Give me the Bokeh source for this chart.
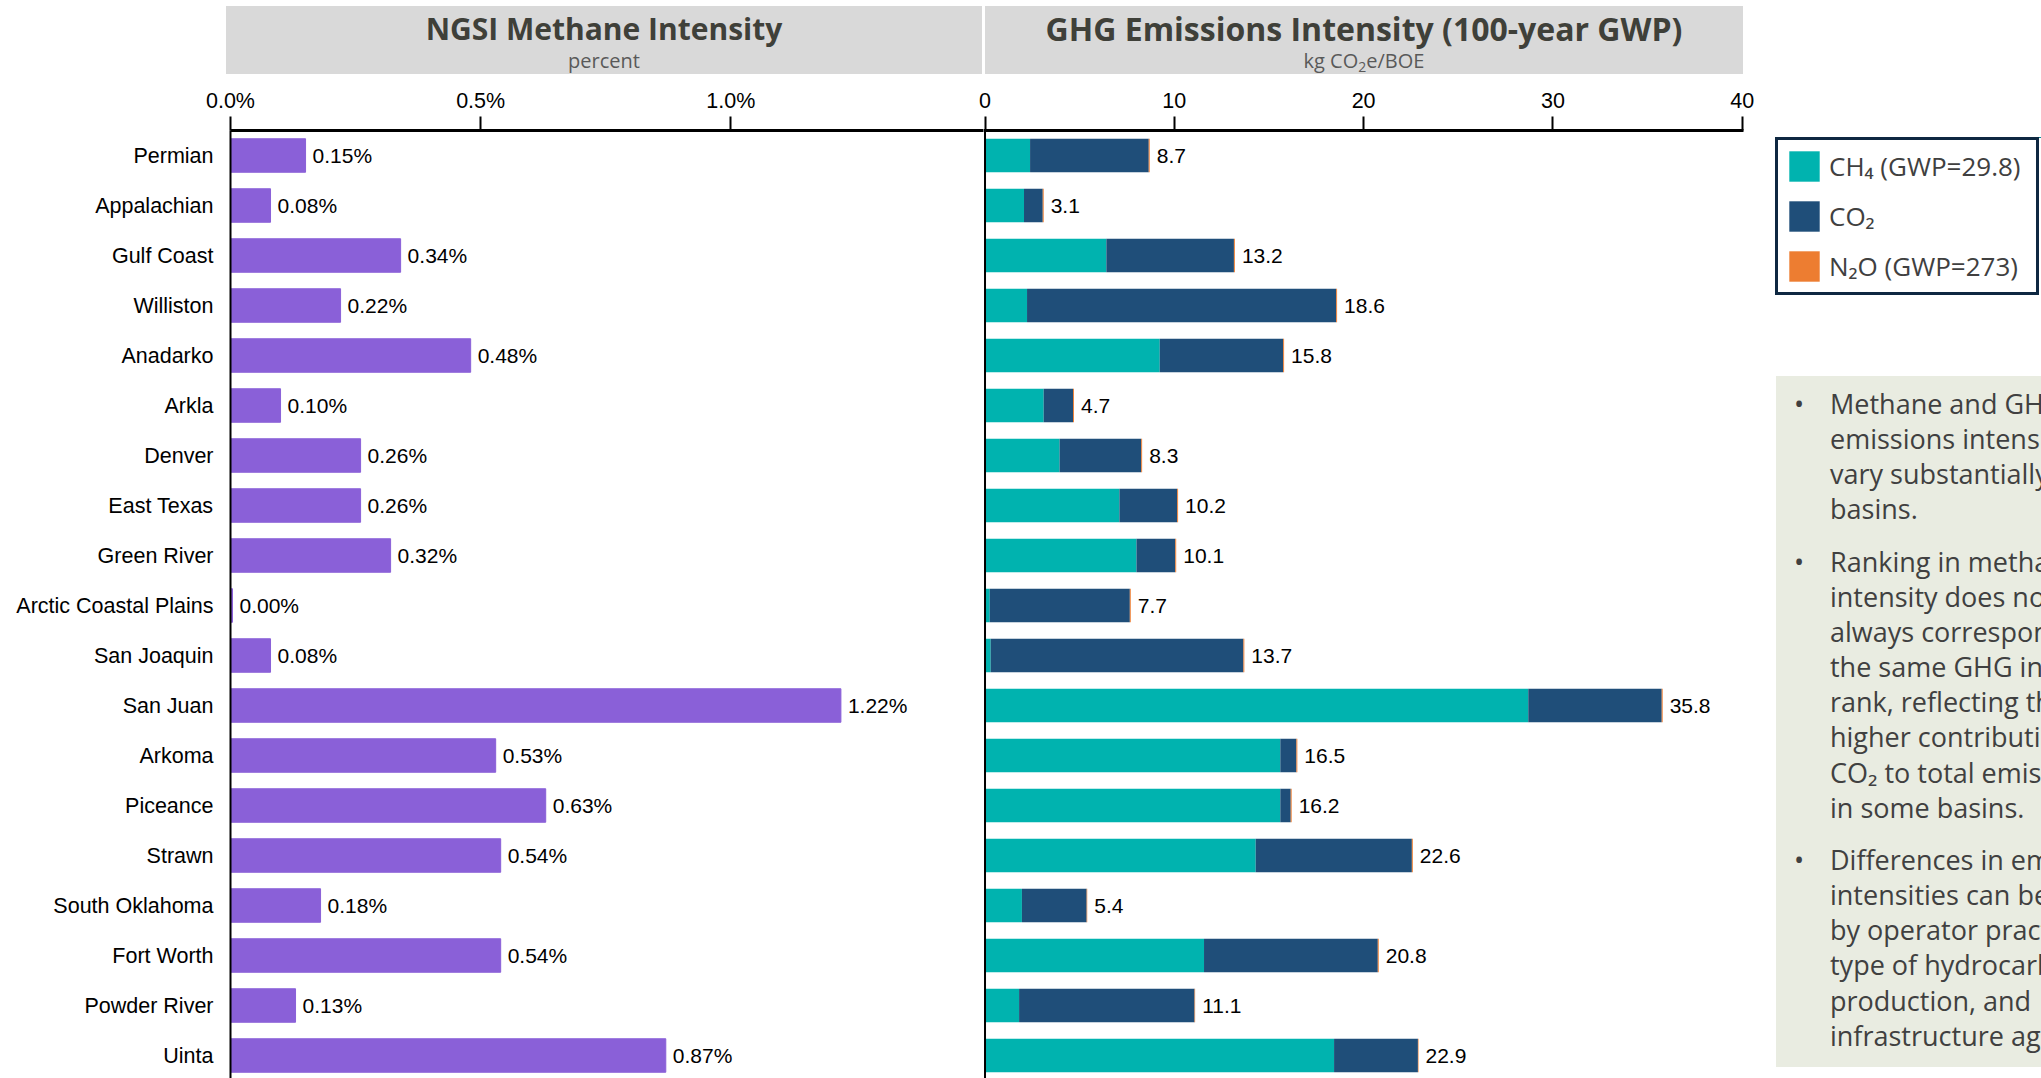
from bokeh.plotting import figure
from bokeh.models import (ColumnDataSource, FixedTicker, PrintfTickFormatter, Span,
                          Legend, LegendItem, Div, Range1d)
from bokeh.layouts import row, column
from bokeh.embed import file_html
from bokeh.resources import INLINE
from bokeh.core.properties import value

# ---------------- data ----------------
basins = ["Permian", "Appalachian", "Gulf Coast", "Williston", "Anadarko", "Arkla",
          "Denver", "East Texas", "Green River", "Arctic Coastal Plains", "San Joaquin",
          "San Juan", "Arkoma", "Piceance", "Strawn", "South Oklahoma", "Fort Worth",
          "Powder River", "Uinta"]
methane_pct = [0.15, 0.08, 0.34, 0.22, 0.48, 0.10, 0.26, 0.26, 0.32, 0.004, 0.08,
               1.22, 0.53, 0.63, 0.54, 0.18, 0.54, 0.13, 0.87]
ch4 = [2.38, 2.06, 6.41, 2.22, 9.23, 3.10, 3.94, 7.10, 8.00, 0.25, 0.30,
       28.70, 15.60, 15.60, 14.30, 1.95, 11.57, 1.80, 18.44]
co2 = [6.27, 0.99, 6.74, 16.33, 6.52, 1.55, 4.31, 3.05, 2.05, 7.40, 13.35,
       7.05, 0.85, 0.55, 8.25, 3.42, 9.18, 9.27, 4.43]
n2o = [0.05, 0.05, 0.05, 0.05, 0.05, 0.05, 0.05, 0.05, 0.05, 0.05, 0.05,
       0.05, 0.05, 0.05, 0.05, 0.03, 0.05, 0.03, 0.03]
ghg_total = [8.7, 3.1, 13.2, 18.6, 15.8, 4.7, 8.3, 10.2, 10.1, 7.7, 13.7,
             35.8, 16.5, 16.2, 22.6, 5.4, 20.8, 11.1, 22.9]
ngsi_ticks = [0.0, 0.5, 1.0]
ghg_ticks = [0, 10, 20, 30, 40]
legend_labels = ["CH\u2084 (GWP=29.8)", "CO\u2082", "N\u2082O (GWP=273)"]

PURPLE = "#8A60D8"
TEAL = "#00B3AF"
NAVY = "#1F4E79"
ORANGE = "#ED7D31"
ARIAL = "Liberation Sans"

n = len(basins)
ypos = list(range(n))

src1 = ColumnDataSource(dict(y=ypos, v=methane_pct,
                             lbl=["{:.2f}%".format(v) for v in methane_pct]))
src2 = ColumnDataSource(dict(y=ypos, ch4=ch4, co2=co2, n2o=n2o, total=ghg_total,
                             lbl=["{:.1f}".format(t) for t in ghg_total]))

FRAME_H = 948
TOP = 56


def style_x_axis(ax, standoff):
    ax.axis_line_width = 3
    ax.axis_line_color = "black"
    ax.major_tick_out = 14
    ax.major_tick_in = 0
    ax.minor_tick_out = 0
    ax.minor_tick_in = 0
    ax.major_tick_line_width = 2
    ax.major_tick_line_color = "black"
    ax.major_label_text_font = ARIAL
    ax.major_label_text_font_size = "21.5px"
    ax.major_label_text_color = "black"
    ax.major_label_standoff = standoff


# ---------------- left panel ----------------
p1 = figure(frame_width=753, frame_height=FRAME_H,
            min_border_left=230, min_border_right=0, min_border_top=TOP, min_border_bottom=0,
            x_range=Range1d(0, 1.505), y_range=Range1d(n - 0.54, -0.5),
            x_axis_location="above", toolbar_location=None, output_backend="svg",
            outline_line_color=None, margin=0)
p1.grid.visible = False
p1.hbar(y="y", right="v", left=0, height=0.67, color=PURPLE, source=src1)
p1.text(x="v", y="y", text="lbl", x_offset=7, text_baseline="middle", text_align="left",
        text_font=value(ARIAL), text_font_size="21px", text_color="black", source=src1)
xa = p1.xaxis[0]
xa.ticker = FixedTicker(ticks=ngsi_ticks)
xa.formatter = PrintfTickFormatter(format="%.1f%%")
style_x_axis(xa, 4)
ya = p1.yaxis[0]
ya.ticker = FixedTicker(ticks=ypos)
ya.major_label_overrides = {i: b for i, b in enumerate(basins)}
ya.major_tick_out = 0
ya.major_tick_in = 0
ya.minor_tick_out = 0
ya.minor_tick_in = 0
ya.axis_line_width = 2
ya.axis_line_color = "black"
ya.major_label_text_font = ARIAL
ya.major_label_text_font_size = "21.5px"
ya.major_label_text_color = "black"
ya.major_label_standoff = 17

# ---------------- right panel ----------------
p2 = figure(frame_width=760, frame_height=FRAME_H,
            min_border_left=12, min_border_right=17, min_border_top=TOP, min_border_bottom=0,
            x_range=Range1d(-0.08, 40.07), y_range=Range1d(n - 0.54, -0.5),
            x_axis_location="above", y_axis_location=None,
            toolbar_location=None, output_backend="svg",
            outline_line_color=None, border_fill_color=None, margin=(0, 0, 0, -12))
p2.grid.visible = False
p2.hbar_stack(["ch4", "co2", "n2o"], y="y", height=0.67,
              color=[TEAL, NAVY, ORANGE], line_color=None, source=src2)
p2.text(x="total", y="y", text="lbl", x_offset=7, text_baseline="middle", text_align="left",
        text_font=value(ARIAL), text_font_size="21px", text_color="black", source=src2)
p2.add_layout(Span(location=0, dimension="height", line_color="black", line_width=2))
xb = p2.xaxis[0]
xb.ticker = FixedTicker(ticks=ghg_ticks)
style_x_axis(xb, 9)

# ---------------- legend (its own small canvas, same series) ----------------
lf = figure(width=281, height=302, min_border_left=15, min_border_top=63,
            min_border_right=0, min_border_bottom=0,
            x_range=Range1d(0, 1), y_range=Range1d(-100, -99),
            x_axis_location=None, y_axis_location=None,
            toolbar_location=None, output_backend="svg", outline_line_color=None, margin=0)
lf.grid.visible = False
lrs = lf.hbar_stack(["ch4", "co2", "n2o"], y="y", height=0.67,
                    color=[TEAL, NAVY, ORANGE], line_color=None, source=src2)
items = [LegendItem(label=lab, renderers=[r]) for lab, r in zip(legend_labels, lrs)]
leg = Legend(items=items, location="top_left", margin=0, padding=7, spacing=12,
             glyph_width=38, glyph_height=38, label_height=38, label_width=200,
             label_standoff=6, label_text_font="Open Sans", label_text_font_size="26px",
             label_text_color="#404040", border_line_color="#0E2841", border_line_width=3,
             border_line_alpha=1, background_fill_color="white", background_fill_alpha=1)
lf.add_layout(leg)

# ---------------- text box ----------------
paras = [
    ["Methane and GHG", "emissions intensities", "vary substantially across", "basins."],
    ["Ranking in methane", "intensity does not", "always correspond to", "the same GHG intensity",
     "rank, reflecting the", "higher contribution of", "CO\u2082 to total emissions",
     "in some basins."],
    ["Differences in emissions", "intensities can be driven", "by operator practices,",
     "type of hydrocarbon", "production, and", "infrastructure age."],
]
body = ""
for lines in paras:
    body += ("<div style='position:relative;padding-left:54px;margin-bottom:17px;white-space:nowrap;'>"
             "<span style='position:absolute;left:18px;top:0;'>&bull;</span>"
             + "<br>".join(lines) + "</div>")
text_html = ("<div style='margin-left:16px;width:265px;height:691px;background:#E9ECE1;"
             "overflow:hidden;font-family:\"Open Sans\";font-size:27px;line-height:35.15px;"
             "color:#404040;padding-top:10px;box-sizing:border-box;'>" + body + "</div>")
text_div = Div(text=text_html, width=281, height=702, margin=0)

colC = column(lf, text_div, spacing=0)


# ---------------- titles ----------------
def title_box(left, width, title, sub, size):
    return ("<div style='position:absolute;left:%dpx;top:6px;width:%dpx;height:68px;"
            "background:#D9D9D9;text-align:center;font-family:\"Open Sans\";'>"
            "<div style='font-weight:700;font-size:%dpx;line-height:36px;padding-top:5px;"
            "color:#3F4039;white-space:nowrap;'>%s</div>"
            "<div style='font-size:20px;line-height:24px;margin-top:2px;color:#595959;"
            "white-space:nowrap;'>%s</div></div>") % (left, width, size, title, sub)


title_html = ("<div style='position:relative;width:2041px;height:74px;'>"
              + title_box(226, 756, "NGSI Methane Intensity", "percent", 30)
              + title_box(985, 758, "GHG Emissions Intensity (100-year GWP)",
                          "kg CO<span style='font-size:0.7em;position:relative;top:0.3em;line-height:0'>2</span>e/BOE",
                          32)
              + "</div>")
title_div = Div(text=title_html, width=2041, height=74, margin=0)

layout = column(title_div, row(p1, p2, colC, spacing=0), spacing=0)

open("out.html", "w").write(file_html(layout, INLINE))
